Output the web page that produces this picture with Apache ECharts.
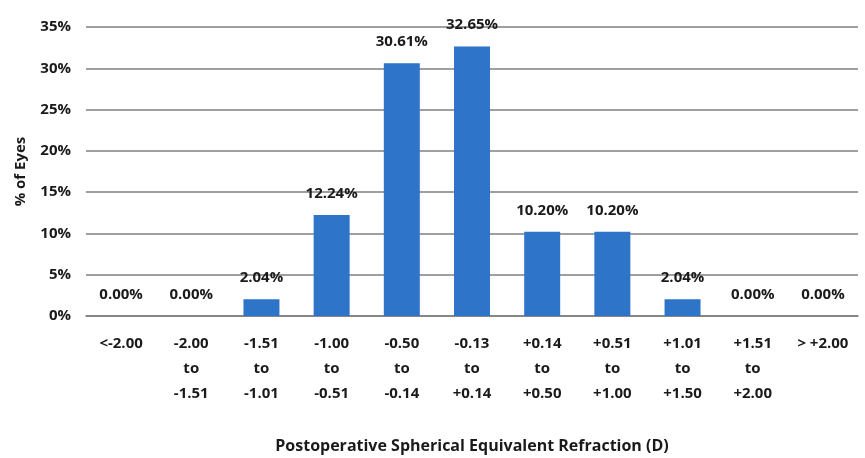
<!DOCTYPE html>
<html><head><meta charset="utf-8">
<script src="https://cdn.jsdelivr.net/npm/echarts@6/dist/echarts.min.js"></script>
<style>html,body{margin:0;padding:0;background:#fff}#c{width:865px;height:458px}</style>
</head><body><div id="c"></div>
<script>
const categories = ['<-2.00', '-2.00\nto\n-1.51', '-1.51\nto\n-1.01', '-1.00\nto\n-0.51', '-0.50\nto\n-0.14', '-0.13\nto\n+0.14', '+0.14\nto\n+0.50', '+0.51\nto\n+1.00', '+1.01\nto\n+1.50', '+1.51\nto\n+2.00', '> +2.00'];
const values = [0, 0, 2.04, 12.24, 30.61, 32.65, 10.20, 10.20, 2.04, 0, 0];
const yTicks = [0, 5, 10, 15, 20, 25, 30, 35];
const font = '"Open Sans", "Liberation Sans", sans-serif';
const chart = echarts.init(document.getElementById('c'));
chart.setOption({
  animation: false,
  grid: {left: 86, right: 7, top: 27, bottom: 142, containLabel: false, outerBoundsMode: 'none'},
  xAxis: {
    type: 'category', data: categories,
    axisLine: {lineStyle: {color: '#7f7f7f', width: 1.5}},
    axisTick: {show: false},
    axisLabel: {interval: 0, color: '#1a1a1a', fontFamily: font, fontWeight: 'bold', fontSize: 15, lineHeight: 25, margin: 15},
    name: 'Postoperative Spherical Equivalent Refraction (D)',
    nameLocation: 'middle', nameGap: 122,
    nameTextStyle: {color: '#1a1a1a', fontFamily: font, fontWeight: 'bold', fontSize: 16}
  },
  yAxis: {
    type: 'value', min: yTicks[0], max: yTicks[yTicks.length - 1], interval: 5,
    axisLine: {show: false}, axisTick: {show: false},
    splitLine: {lineStyle: {color: '#7f7f7f', width: 1.5}},
    axisLabel: {formatter: '{value}%', color: '#1a1a1a', fontFamily: font, fontWeight: 'bold', fontSize: 15, margin: 15},
    name: '% of Eyes', nameLocation: 'middle', nameGap: 58, nameRotate: 90,
    nameTextStyle: {color: '#1a1a1a', fontFamily: font, fontWeight: 'bold', fontSize: 15}
  },
  series: [{
    type: 'bar', data: values, barWidth: 36,
    itemStyle: {color: '#2E74C8'},
    label: {show: true, position: 'top', distance: 14, formatter: p => p.value.toFixed(2) + '%',
      color: '#1a1a1a', fontFamily: font, fontWeight: 'bold', fontSize: 15}
  }]
});
</script></body></html>
